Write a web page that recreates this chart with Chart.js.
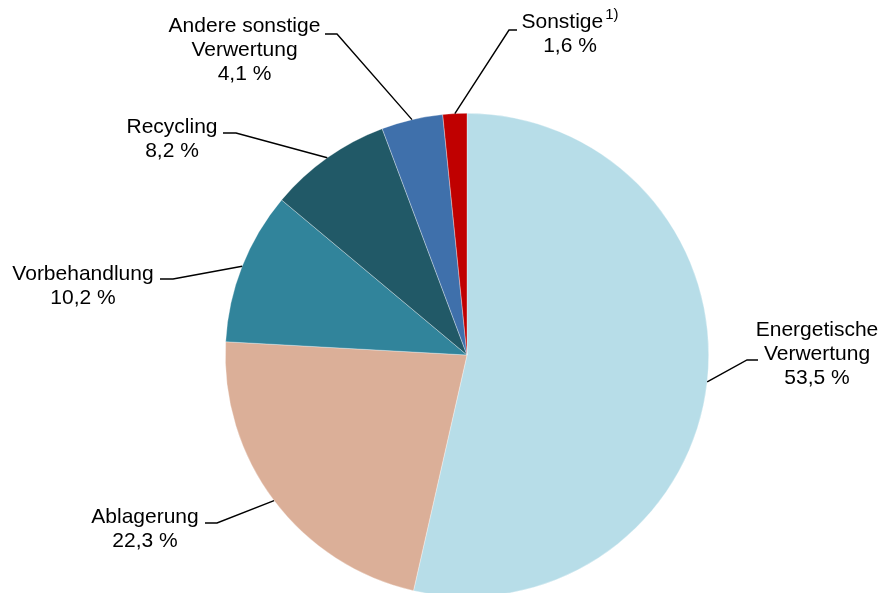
<!DOCTYPE html>
<html>
<head>
<meta charset="utf-8">
<script src="https://cdn.jsdelivr.net/npm/chart.js@4.4.1/dist/chart.umd.min.js"></script>
<style>
  html, body { margin: 0; padding: 0; background: #fff; overflow: hidden; }
  #wrap { position: relative; width: 880px; height: 600px; }
</style>
</head>
<body>
<div id="wrap"><canvas id="myChart" width="880" height="600"></canvas></div>
<script>
// Anteile der Entsorgungswege in Prozent, im Uhrzeigersinn ab 12 Uhr
var categories = ['Energetische\nVerwertung', 'Ablagerung', 'Vorbehandlung', 'Recycling', 'Andere sonstige\nVerwertung', 'Sonstige'];
var shares = [53.5, 22.3, 10.2, 8.2, 4.1, 1.6];
var notes = ['', '', '', '', '', '1)'];
var colors = ['#b7dde8', '#dbaf98', '#31849b', '#215967', '#3f70ab', '#c00000'];

// Lage der Beschriftungen: Textmitte, erste Grundlinie, Knick und Ende der Führungslinie
var labelPos = [
	{ x: 817,   y: 336, elbow: [747, 360], tail: [758, 360] },
	{ x: 145,   y: 523, elbow: [217, 523], tail: [205, 523] },
	{ x: 83,    y: 280, elbow: [173, 279], tail: [160, 279] },
	{ x: 172,   y: 133, elbow: [236, 133], tail: [223, 133] },
	{ x: 244.5, y: 32,  elbow: [337, 34],  tail: [325, 34] },
	{ x: 570,   y: 28,  elbow: [509, 30],  tail: [517, 30] }
];

var FONT = '"Liberation Sans", Arial, sans-serif';
var LINE_H = 24;

function fmt(v) {
	return v.toFixed(1).replace('.', ',') + ' %';
}

var leaderLabels = {
	id: 'leaderLabels',
	afterDatasetsDraw: function(chart) {
		var ctx = chart.ctx;
		var arcs = chart.getDatasetMeta(0).data;
		ctx.save();
		ctx.strokeStyle = '#000';
		ctx.lineWidth = 1.4;
		ctx.fillStyle = '#000';
		ctx.textBaseline = 'alphabetic';
		arcs.forEach(function(arc, i) {
			var p = labelPos[i];
			var mid = (arc.startAngle + arc.endAngle) / 2;
			var ex = arc.x + Math.cos(mid) * arc.outerRadius;
			var ey = arc.y + Math.sin(mid) * arc.outerRadius;

			ctx.beginPath();
			ctx.moveTo(ex, ey);
			ctx.lineTo(p.elbow[0], p.elbow[1]);
			ctx.lineTo(p.tail[0], p.tail[1]);
			ctx.stroke();

			var lines = categories[i].split('\n');
			lines.push(fmt(shares[i]));
			lines.forEach(function(txt, k) {
				var y = p.y + k * LINE_H;
				ctx.font = '21px ' + FONT;
				var w = ctx.measureText(txt).width;
				var sup = (k === 0) ? notes[i] : '';
				var sw = 0;
				if (sup) {
					ctx.font = '15px ' + FONT;
					sw = ctx.measureText(sup).width + 2;
				}
				var x0 = p.x - (w + sw) / 2;
				ctx.font = '21px ' + FONT;
				ctx.textAlign = 'left';
				ctx.fillText(txt, x0, y);
				if (sup) {
					ctx.font = '15px ' + FONT;
					ctx.fillText(sup, x0 + w + 2, y - 9);
				}
			});
		});
		ctx.restore();
	}
};

var config = {
	type: 'pie',
	data: {
		labels: categories,
		datasets: [{
			data: shares,
			backgroundColor: colors,
			borderColor: 'rgba(255,255,255,0.55)',
			borderWidth: 0.6,
			hoverOffset: 0
		}]
	},
	options: {
		responsive: false,
		animation: false,
		events: [],
		layout: {
			padding: { left: 225, right: 171, top: 113, bottom: 3 }
		},
		plugins: {
			legend: { display: false },
			tooltip: { enabled: false }
		}
	},
	plugins: [leaderLabels]
};

var ctx = document.getElementById('myChart').getContext('2d');
window.myPie = new Chart(ctx, config);
</script>
</body>
</html>
